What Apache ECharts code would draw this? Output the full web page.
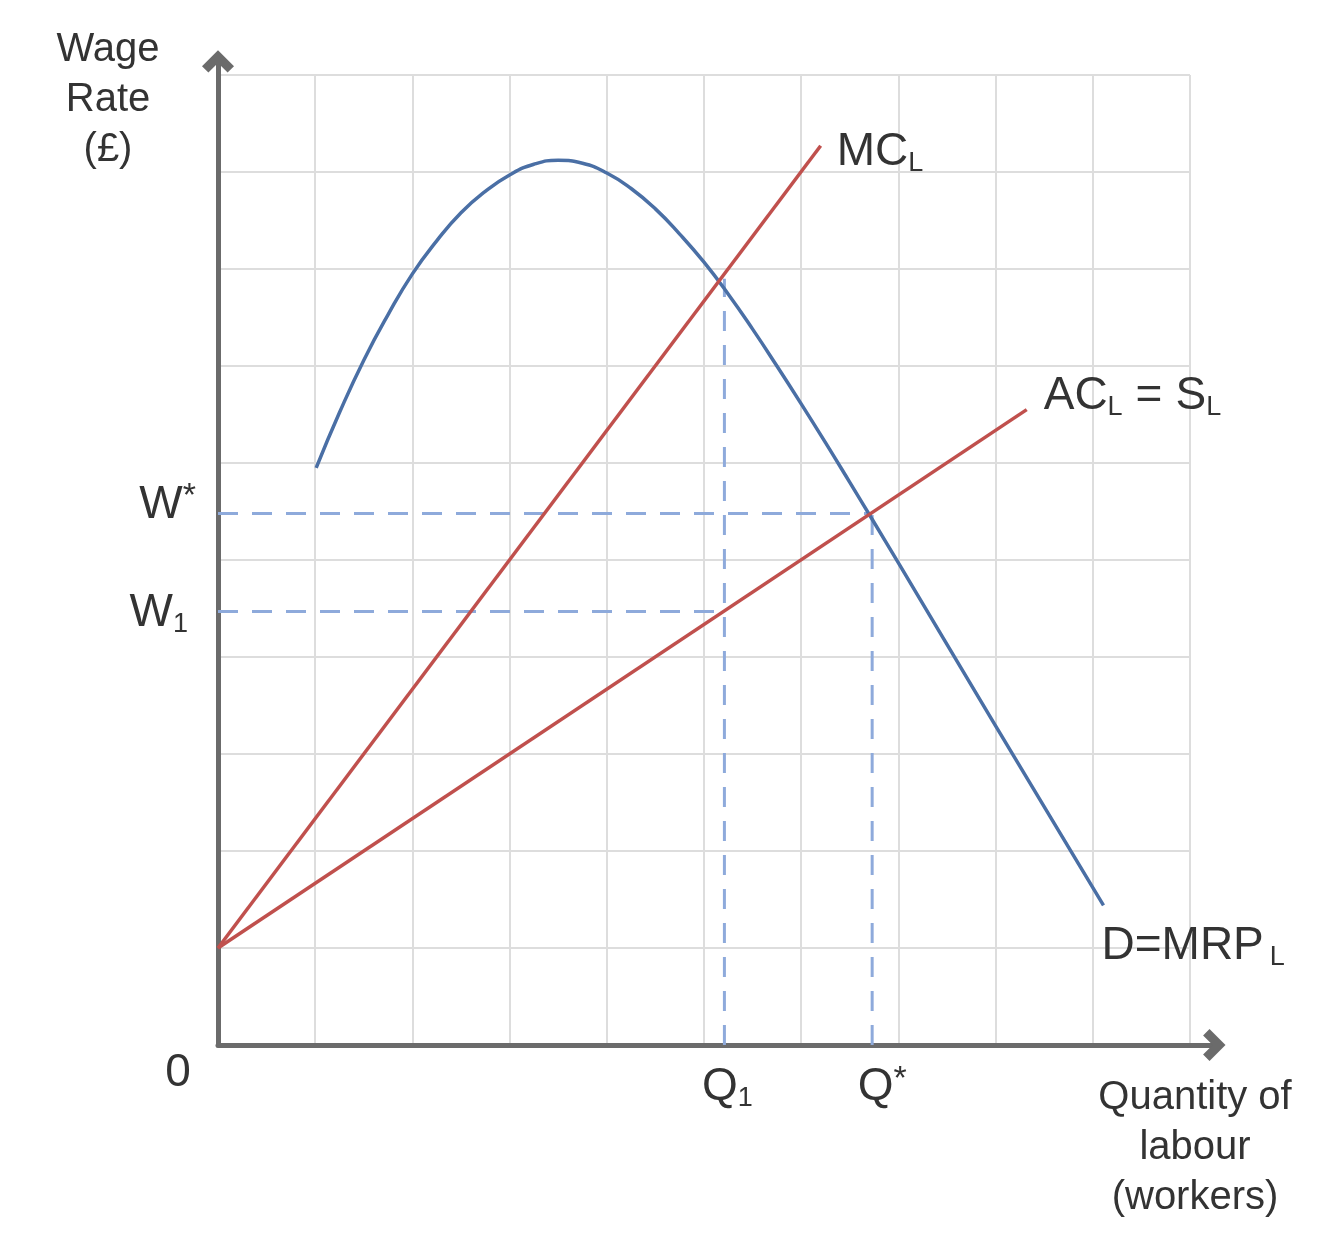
<!DOCTYPE html>
<html>
<head>
<meta charset="utf-8">
<script src="https://cdn.jsdelivr.net/npm/echarts@6/dist/echarts.min.js"></script>
<style>
html,body{margin:0;padding:0;background:#fff;}
#chart{width:1334px;height:1245px;}
</style>
</head>
<body>
<div id="chart"></div>
<script>
// ---- data (x: quantity of labour, y: wage rate; grid units) ----
const mrpX = [1.01, 1.25, 1.50, 1.75, 2.00, 2.25, 2.50, 2.75, 3.00, 3.25, 3.50, 3.75, 4.00, 4.25, 4.50, 4.75, 5.00, 5.25, 5.50, 5.75, 6.00, 6.25, 6.50, 6.73, 7.00, 8.00, 9.11];
const mrpY = [5.95, 6.52, 7.06, 7.53, 7.95, 8.29, 8.58, 8.80, 8.97, 9.08, 9.12, 9.09, 8.99, 8.83, 8.62, 8.36, 8.07, 7.74, 7.38, 7.00, 6.61, 6.21, 5.80, 5.42, 4.97, 3.29, 1.44];
const mcX = [0, 6.20];
const mcY = [1, 9.27];
const acX = [0, 8.32];
const acY = [1, 6.55];
const qValues = { Q1: 5.21, Qstar: 6.73 };
const wValues = { W1: 4.47, Wstar: 5.48 };
const q1Top = 7.90;      // MC_L = MRP_L at Q1
const gridTicks = [0, 10];   // grid extent, 1-unit squares

// ---- layout ----
const W = 1334, H = 1245;
const G = { left: 218, right: 144, top: 75, bottom: 200 };
const unitX = (W - G.left - G.right) / 10;
const unitY = (H - G.top - G.bottom) / 10;
const xArrowMax = 10.25, yArrowMax = 10.14;
const G2 = { left: G.left, bottom: G.bottom,
  right: G.right - (xArrowMax - 10) * unitX,
  top: G.top - (yArrowMax - 10) * unitY };

const FONT = '"Liberation Sans", Arial, Helvetica, sans-serif';
const TXT = '#333333';
const BLUE = '#4a6fa5', RED = '#c0504d', DASH = '#8eaadb', AXIS = '#6b6b6b', GRIDC = '#dddddd';

const pairs = (xs, ys) => xs.map((x, i) => [x, ys[i]]);

const chevron = 'path://M10,0 L20,10 L16,14 L10,8 L4,14 L0,10 Z';

const rich = {
  m: { fontSize: 46, fontFamily: FONT, color: TXT, lineHeight: 50 },
  e: { fontSize: 46, fontFamily: FONT, color: TXT, lineHeight: 50, padding: [0, 13, 0, 13] },
  s: { fontSize: 27, fontFamily: FONT, color: TXT, lineHeight: 18, verticalAlign: 'bottom' },
  t: { fontSize: 27, fontFamily: FONT, color: TXT, lineHeight: 18, verticalAlign: 'bottom', padding: [0, 0, 0, 6] },
  p: { fontSize: 34, fontFamily: FONT, color: TXT, lineHeight: 32, verticalAlign: 'top' }
};

function lab(x, y, text, align, vAlign, offset) {
  return { value: [x, y], label: { formatter: text, align: align, verticalAlign: vAlign, offset: offset } };
}

const labelData = [
  lab(mcX[1], mcY[1], '{m|MC}{s|L}', 'left', 'middle', [16, 7]),
  lab(acX[1], acY[1], '{m|AC}{s|L}{e|=}{m|S}{s|L}', 'left', 'middle', [17, -13]),
  lab(mrpX[mrpX.length - 1], mrpY[mrpY.length - 1], '{m|D=MRP}{t|L}', 'left', 'middle', [-2, 41]),
  lab(0, wValues.Wstar, '{m|W}{p|*}', 'right', 'middle', [-22, -8]),
  lab(0, wValues.W1, '{m|W}{s|1}', 'right', 'middle', [-30, 2]),
  lab(qValues.Q1, 0, '{m|Q}{s|1}', 'center', 'top', [3, 18]),
  lab(qValues.Qstar, 0, '{m|Q}{p|*}', 'center', 'top', [10, 18]),
  lab(0, 0, '{m|0}', 'center', 'top', [-40, 4])
];

function dashed(data) {
  return { type: 'line', xAxisIndex: 1, yAxisIndex: 1, data: data, symbol: 'none', silent: true,
    lineStyle: { color: DASH, width: 3, type: [20, 14] }, z: 2 };
}

const hiddenAxisBits = { axisLine: { show: false }, axisTick: { show: false }, axisLabel: { show: false } };

const option = {
  backgroundColor: '#ffffff',
  animation: false,
  grid: [
    Object.assign({ outerBoundsMode: 'none', containLabel: false }, G),
    Object.assign({ outerBoundsMode: 'none', containLabel: false }, G2)
  ],
  xAxis: [
    Object.assign({ type: 'value', gridIndex: 0, min: gridTicks[0], max: gridTicks[1], interval: 1,
      splitLine: { show: true, lineStyle: { color: GRIDC, width: 2 } } }, hiddenAxisBits),
    { type: 'value', gridIndex: 1, min: 0, max: xArrowMax,
      splitLine: { show: false }, axisTick: { show: false }, axisLabel: { show: false },
      axisLine: { show: true, onZero: false, symbol: ['none', chevron], symbolSize: [32, 24],
        lineStyle: { color: AXIS, width: 5 } } }
  ],
  yAxis: [
    Object.assign({ type: 'value', gridIndex: 0, min: gridTicks[0], max: gridTicks[1], interval: 1,
      splitLine: { show: true, lineStyle: { color: GRIDC, width: 2 } } }, hiddenAxisBits),
    { type: 'value', gridIndex: 1, min: 0, max: yArrowMax,
      splitLine: { show: false }, axisTick: { show: false }, axisLabel: { show: false },
      axisLine: { show: true, onZero: false, symbol: ['none', chevron], symbolSize: [32, 24],
        lineStyle: { color: AXIS, width: 5 } } }
  ],
  series: [
    dashed([[0, wValues.Wstar], [qValues.Qstar, wValues.Wstar]]),
    dashed([[0, wValues.W1], [qValues.Q1, wValues.W1]]),
    dashed([[qValues.Q1, 0], [qValues.Q1, q1Top]]),
    dashed([[qValues.Qstar, 0], [qValues.Qstar, wValues.Wstar]]),
    { name: 'D=MRP', type: 'line', xAxisIndex: 1, yAxisIndex: 1, data: pairs(mrpX, mrpY), smooth: 0.5,
      symbol: 'none', lineStyle: { color: BLUE, width: 3.5 }, z: 3 },
    { name: 'MC', type: 'line', xAxisIndex: 1, yAxisIndex: 1, data: pairs(mcX, mcY),
      symbol: 'none', lineStyle: { color: RED, width: 3.5 }, z: 3 },
    { name: 'AC', type: 'line', xAxisIndex: 1, yAxisIndex: 1, data: pairs(acX, acY),
      symbol: 'none', lineStyle: { color: RED, width: 3.5 }, z: 3 },
    { name: 'labels', type: 'scatter', xAxisIndex: 1, yAxisIndex: 1, data: labelData,
      symbol: 'circle', symbolSize: 1, itemStyle: { color: 'rgba(0,0,0,0)' }, silent: true, clip: false, z: 5,
      label: { show: true, position: 'top', distance: 0, color: TXT, textBorderWidth: 0, opacity: 1, rich: rich } }
  ],
  graphic: [
    { type: 'text', x: 108, y: 25, silent: true,
      style: { text: 'Wage\nRate\n(£)', fontSize: 40, fontFamily: FONT, fill: TXT, lineHeight: 50,
        align: 'center', verticalAlign: 'top' } },
    { type: 'text', x: 1195, y: 1073, silent: true,
      style: { text: 'Quantity of\nlabour\n(workers)', fontSize: 40, fontFamily: FONT, fill: TXT, lineHeight: 50,
        align: 'center', verticalAlign: 'top' } }
  ]
};

const chart = echarts.init(document.getElementById('chart'), null, { renderer: 'canvas', width: W, height: H });
chart.setOption(option);
</script>
</body>
</html>
